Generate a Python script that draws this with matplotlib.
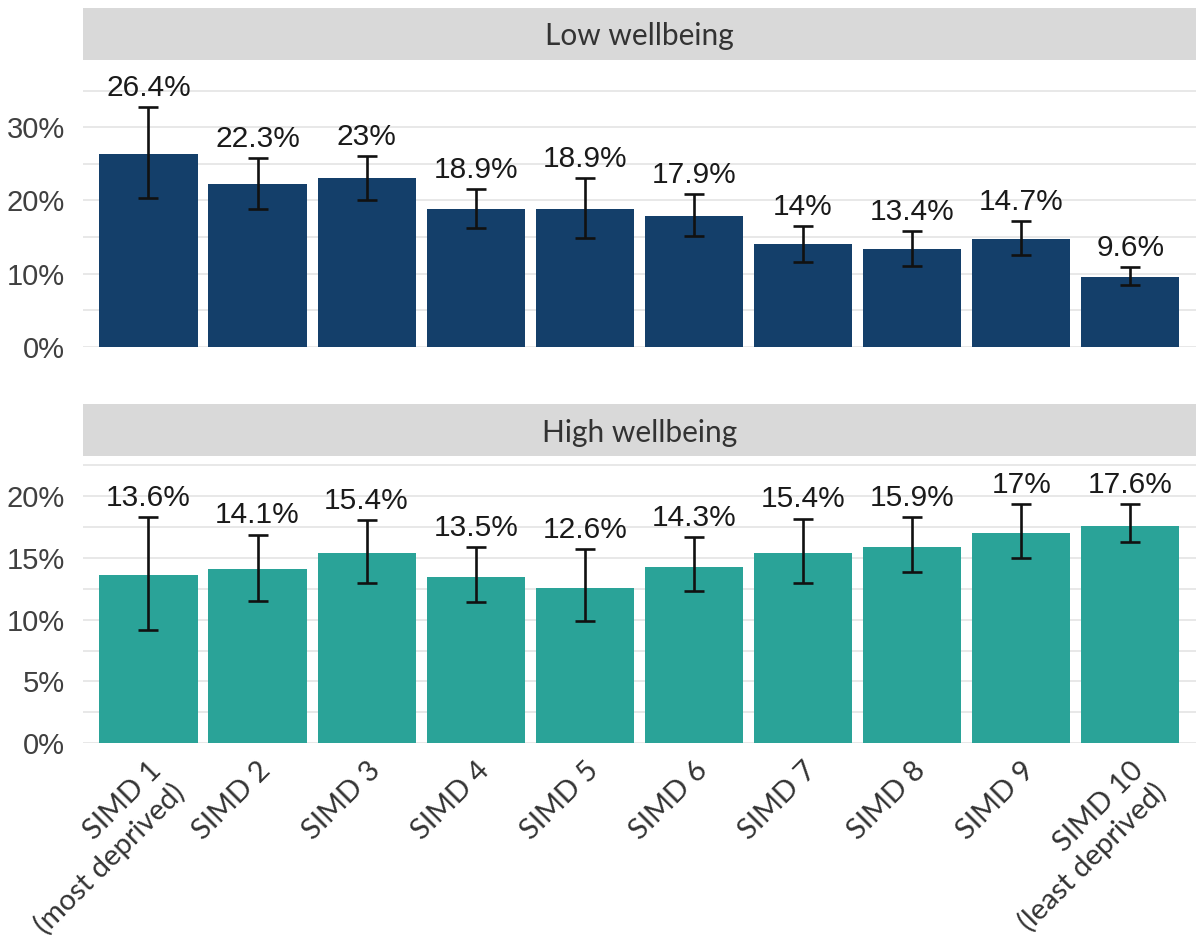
import matplotlib
matplotlib.use("Agg")
import matplotlib.pyplot as plt
from matplotlib.ticker import FuncFormatter

categories = ["SIMD 1\n(most deprived)", "SIMD 2", "SIMD 3", "SIMD 4", "SIMD 5",
              "SIMD 6", "SIMD 7", "SIMD 8", "SIMD 9", "SIMD 10\n(least deprived)"]

# percentages with 95% confidence limits
low_vals = [26.4, 22.3, 23, 18.9, 18.9, 17.9, 14, 13.4, 14.7, 9.6]
low_lo = [20.3, 18.9, 20.1, 16.3, 14.9, 15.1, 11.6, 11.1, 12.5, 8.45]
low_hi = [32.7, 25.8, 26.1, 21.6, 23.0, 20.9, 16.5, 15.8, 17.2, 10.95]

high_vals = [13.6, 14.1, 15.4, 13.5, 12.6, 14.3, 15.4, 15.9, 17, 17.6]
high_lo = [9.2, 11.5, 13.0, 11.4, 9.9, 12.3, 13.0, 13.9, 15.0, 16.3]
high_hi = [18.3, 16.9, 18.1, 15.9, 15.7, 16.7, 18.2, 18.3, 19.4, 19.4]

panels = [
    ("Low wellbeing", low_vals, low_lo, low_hi, "#143f6a", 38.9, 10),
    ("High wellbeing", high_vals, high_lo, high_hi, "#2aa398", 23.1, 5),
]

NUM_FONT = "Liberation Sans"
TXT_FONT = "Lato"

fig = plt.figure(figsize=(11.97, 9.48), dpi=100)

left, width = 0.0693, 0.9297
panel_h, strip_h = 0.3006, 0.0549
panel_bottoms = [0.634, 0.2162]

x = list(range(1, len(categories) + 1))

for (title, vals, lo, hi, colour, ytop, step), bottom in zip(panels, panel_bottoms):
    ax = fig.add_axes([left, bottom, width, panel_h])
    strip = fig.add_axes([left, bottom + panel_h + 0.0022, width, strip_h])

    # strip header
    strip.set_facecolor("#d9d9d9")
    strip.set_xticks([])
    strip.set_yticks([])
    for s in strip.spines.values():
        s.set_visible(False)
    strip.text(0.5, 0.45, title, ha="center", va="center", fontsize=21.5,
               family=TXT_FONT, color="#333333", transform=strip.transAxes)

    # grid at major and half-way minor positions
    gl = [i * step / 2 for i in range(int(ytop / (step / 2)) + 1)]
    for g in gl:
        ax.axhline(g, color="#e2e2e2", lw=1.1, zorder=0)

    ax.bar(x, vals, width=0.9, color=colour, zorder=2)
    yerr = [[v - l for v, l in zip(vals, lo)], [h - v for v, h in zip(vals, hi)]]
    ax.errorbar(x, vals, yerr=yerr, fmt="none", ecolor="#111111", elinewidth=1.9,
                capsize=7.2, capthick=1.9, zorder=3)

    for xi, v, h in zip(x, vals, hi):
        ax.annotate(f"{v:g}%", (xi, h), xytext=(0, 8), textcoords="offset points",
                    ha="center", va="baseline", fontsize=21.5, family=NUM_FONT,
                    color="#1a1a1a", zorder=4)

    ax.set_xlim(0.4, 10.6)
    ax.set_ylim(0, ytop)
    ax.set_yticks([i * step for i in range(int(ytop // step) + 1)])
    ax.yaxis.set_major_formatter(FuncFormatter(lambda v, p: f"{v:.0f}%"))
    for lab in ax.get_yticklabels():
        lab.set_fontfamily(NUM_FONT)
    ax.tick_params(axis="y", length=0, pad=13, labelsize=21, labelcolor="#404040")
    for s in ax.spines.values():
        s.set_visible(False)

    if bottom == panel_bottoms[-1]:
        ax.set_xticks(x)
        ax.set_xticklabels(categories, rotation=45, ha="right", va="top",
                           rotation_mode="anchor", multialignment="right",
                           fontsize=21, family=TXT_FONT, color="#333333")
        ax.tick_params(axis="x", length=0, pad=10)
    else:
        ax.set_xticks([])

fig.savefig("out.png", dpi=100)
